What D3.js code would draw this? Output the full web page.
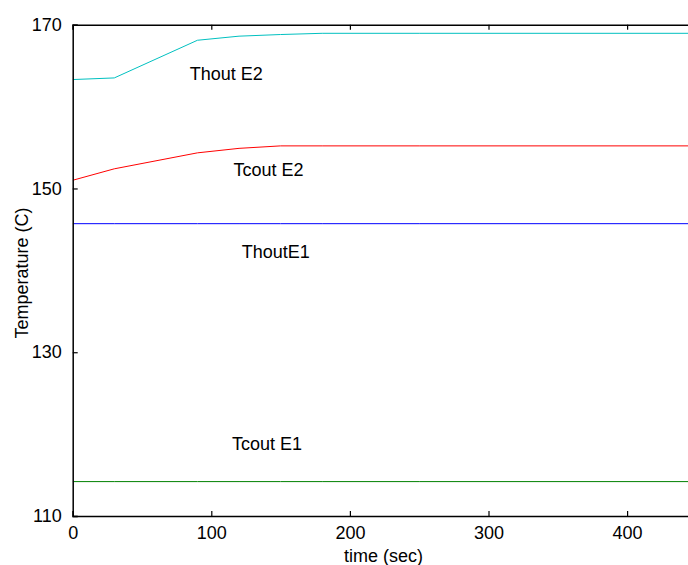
<!DOCTYPE html>
<html>
<head>
<meta charset="utf-8">
<script src="https://cdn.jsdelivr.net/npm/d3@7"></script>
<style>
  body { margin: 0; background: #fff; }
  svg { display: block; font-family: "Liberation Sans", Arial, sans-serif; }
</style>
</head>
<body>
<div id="chart"></div>
<script>
// time points (sec) and temperatures (C)
const time = [0, 30, 90, 120, 150, 180, 250, 500];
const thoutE2 = [163.3, 163.5, 168.1, 168.6, 168.8, 168.95, 168.95, 168.95];
const tcoutE2 = [151.0, 152.4, 154.35, 154.9, 155.2, 155.2, 155.2, 155.2];
const thoutE1 = [145.7, 145.7, 145.7, 145.7, 145.7, 145.7, 145.7, 145.7];
const tcoutE1 = [114.2, 114.2, 114.2, 114.2, 114.2, 114.2, 114.2, 114.2];

const seriesNames = ["Thout E2", "Tcout E2", "ThoutE1", "Tcout E1"];
const seriesColors = ["#00c0c0", "#ff0000", "#0000ff", "#008000"];
// label anchor positions in data units (time, temperature)
const labelTime = [84.5, 116, 122, 115];
const labelTemp = [163.3, 151.5, 141.5, 118.1];

const xTicks = [0, 100, 200, 300, 400];
const yTicks = [110, 130, 150, 170];

const W = 688, H = 565;
const margin = { top: 24.7, left: 72.7 };
const plotW = 693, plotH = 491.3;

const svg = d3.select("#chart").append("svg")
  .attr("width", W).attr("height", H);

const x = d3.scaleLinear().domain([0, 500]).range([margin.left, margin.left + plotW]);
const y = d3.scaleLinear().domain([110, 170]).range([margin.top + plotH, margin.top]);

svg.append("defs").append("clipPath").attr("id", "clip")
  .append("rect")
  .attr("x", margin.left).attr("y", margin.top)
  .attr("width", plotW).attr("height", plotH);

// lines
const series = [thoutE2, tcoutE2, thoutE1, tcoutE1];
const line = d3.line()
  .x((d, i) => x(time[i]))
  .y(d => y(d));

svg.append("g").attr("clip-path", "url(#clip)")
  .selectAll("path")
  .data(series)
  .enter()
  .append("path")
  .attr("d", d => line(d))
  .attr("fill", "none")
  .attr("stroke", (d, i) => seriesColors[i])
  .attr("stroke-width", 1);

// axes (ticks pointing inward, like matlab)
const fmt = d3.format("d");
const xAxisBottom = svg.append("g")
  .attr("transform", `translate(0,${margin.top + plotH})`)
  .call(d3.axisBottom(x).tickValues(xTicks).tickSize(-5).tickPadding(10).tickFormat(fmt));
const xAxisTop = svg.append("g")
  .attr("transform", `translate(0,${margin.top})`)
  .call(d3.axisTop(x).tickValues(xTicks).tickSize(-5).tickFormat(""));
const yAxisLeft = svg.append("g")
  .attr("transform", `translate(${margin.left},0)`)
  .call(d3.axisLeft(y).tickValues(yTicks).tickSize(-5).tickPadding(11).tickFormat(fmt));

[xAxisBottom, xAxisTop, yAxisLeft].forEach(g => {
  g.select(".domain").attr("stroke", "#000").attr("stroke-width", 1.5);
  g.selectAll(".tick line").attr("stroke", "#000").attr("stroke-width", 1.2);
  g.selectAll("text").attr("fill", "#000")
    .attr("font-size", 18)
    .attr("font-family", "Liberation Sans, Arial, sans-serif");
});

// series labels
svg.selectAll(".lbl")
  .data(seriesNames)
  .enter()
  .append("text")
  .attr("class", "lbl")
  .attr("x", (d, i) => x(labelTime[i]))
  .attr("y", (d, i) => y(labelTemp[i]))
  .attr("font-size", 18)
  .attr("fill", "#000")
  .text(d => d);

// axis titles
svg.append("text")
  .attr("x", 383.5).attr("y", 562)
  .attr("text-anchor", "middle")
  .attr("font-size", 18)
  .text("time (sec)");

svg.append("text")
  .attr("transform", "translate(28,273) rotate(-90)")
  .attr("text-anchor", "middle")
  .attr("font-size", 18)
  .text("Temperature (C)");
</script>
</body>
</html>
